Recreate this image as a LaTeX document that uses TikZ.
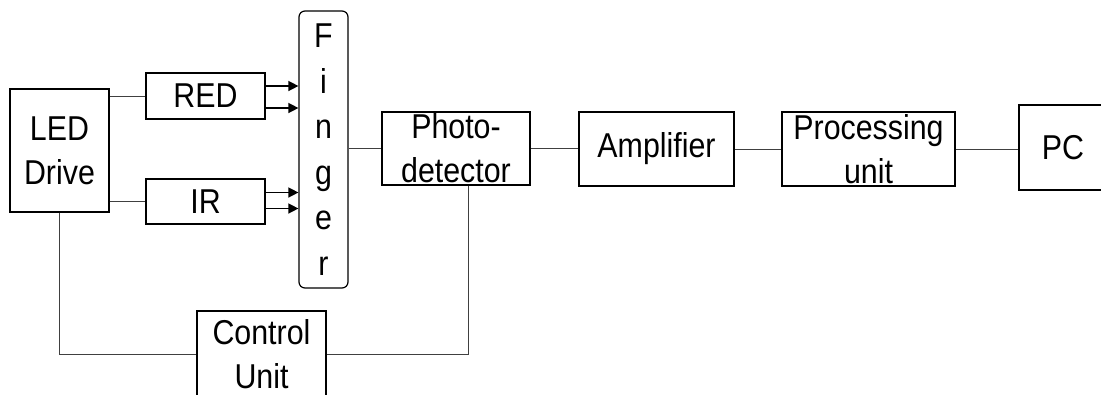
\documentclass[tikz,border=0pt]{standalone}
\usepackage{fontspec}
\setmainfont[FakeStretch=0.88]{Liberation Sans}
\usepackage{tikz}
\usetikzlibrary{arrows.meta, positioning, calc}

\begin{document}
\begin{tikzpicture}[
    x=1pt, y=-1pt,
    block/.style={rectangle, draw, line width=1.2pt, inner sep=0pt, align=center, font=\fontsize{34.5}{44}\selectfont},
    fingerbox/.style={block, rounded corners=6pt, font=\fontsize{34.5}{45.5}\selectfont},
    arr/.style={-{Triangle[length=10pt, width=10pt]}, line width=1.4pt},
    wire/.style={line width=1pt, black!75}
]
\clip (0,0) rectangle (1101,394);

\node[block, minimum width=99pt, minimum height=123pt] (led) at (59.5,150.5) {LED\\Drive};
\node[block, minimum width=119pt, minimum height=46pt] (red) at (205.5,96) {RED};
\node[block, minimum width=119pt, minimum height=45pt] (ir) at (205.5,201.5) {IR};
\node[fingerbox, minimum width=49pt, minimum height=277pt] (finger) at (323.5,149.5) {F\\i\\n\\g\\e\\r};
\node[block, minimum width=148pt, minimum height=73pt] (photo) at (456,148.5) {Photo-\\detector};
\node[block, minimum width=155pt, minimum height=74pt] (amp) at (656.5,149) {Amplifier};
\node[block, minimum width=173pt, minimum height=74pt] (proc) at (868.5,149) {Processing\\unit};
\node[block, minimum width=88pt, minimum height=85pt] (pc) at (1063,147.5) {PC};
\node[block, minimum width=129pt, minimum height=86pt] (ctrl) at (261.5,354) {Control\\Unit};

\draw[wire] (red.west -| led.east) -- (red.west);
\draw[wire] (ir.west -| led.east) -- (ir.west);
\draw[arr] ([yshift=10pt]red.east) -- ([yshift=10pt]red.east -| finger.west);
\draw[arr] ([yshift=-12pt]red.east) -- ([yshift=-12pt]red.east -| finger.west);
\draw[arr] ([yshift=9pt]ir.east) -- ([yshift=9pt]ir.east -| finger.west);
\draw[arr] ([yshift=-7pt]ir.east) -- ([yshift=-7pt]ir.east -| finger.west);
\draw[wire] (photo.west -| finger.east) -- (photo.west);
\draw[wire] (photo.east) -- (photo.east -| amp.west);
\draw[wire] (amp.east) -- (proc.west);
\draw[wire] (proc.east) -- (proc.east -| pc.west);
\draw[wire] ([xshift=12pt]photo.south) |- (ctrl.east);
\draw[wire] (led.south) |- (ctrl.west);
\end{tikzpicture}
\end{document}
